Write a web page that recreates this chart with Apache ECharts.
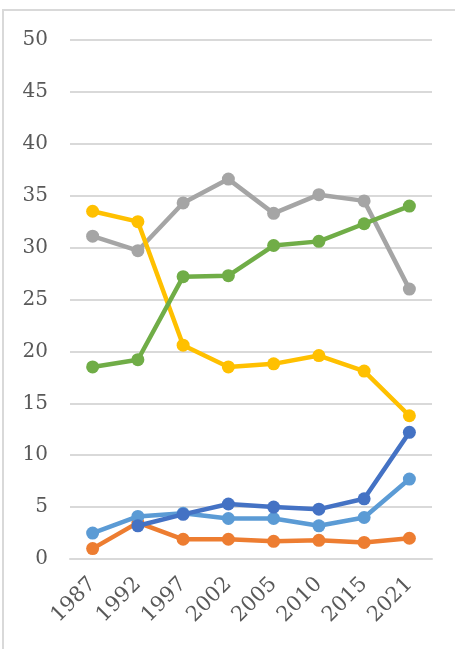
<!DOCTYPE html>
<html>
<head>
<meta charset="utf-8">
<script src="https://cdn.jsdelivr.net/npm/echarts@6/dist/echarts.min.js"></script>
<style>
  html, body { margin: 0; padding: 0; background: #fff; }
  #chart { width: 455px; height: 649px; }
</style>
</head>
<body>
<div id="chart"></div>
<script>
// categories (survey years)
const years = ["1987", "1992", "1997", "2002", "2005", "2010", "2015", "2021"];

// series values
const grayVals = [31.1, 29.7, 34.3, 36.6, 33.3, 35.1, 34.5, 26.0];
const yellowVals = [33.5, 32.5, 20.6, 18.5, 18.8, 19.6, 18.1, 13.8];
const greenVals = [18.5, 19.2, 27.2, 27.3, 30.2, 30.6, 32.3, 34.0];
const darkBlueVals = [null, 3.2, 4.3, 5.3, 5.0, 4.8, 5.8, 12.2];
const lightBlueVals = [2.5, 4.1, 4.4, 3.9, 3.9, 3.2, 4.0, 7.7];
const orangeVals = [1.0, 3.5, 1.9, 1.9, 1.7, 1.8, 1.6, 2.0];

const chart = echarts.init(document.getElementById("chart"));

function lineSeries(data, color, z) {
  return {
    type: "line",
    data: data,
    z: z,
    symbol: "circle",
    symbolSize: 13,
    showSymbol: true,
    lineStyle: { width: 4.5, color: color },
    itemStyle: { color: color },
  };
}

const labelFont = "'DejaVu Serif', serif";

chart.setOption({
  animation: false,
  grid: { left: 70, right: 23, top: 40, bottom: 90, containLabel: false },
  graphic: [
    {
      type: "rect",
      shape: { x: 3, y: 10, width: 470, height: 660 },
      style: { fill: null, stroke: "#d9d9d9", lineWidth: 2 },
    },
  ],
  xAxis: {
    type: "category",
    data: years,
    boundaryGap: true,
    axisLine: { show: true, lineStyle: { color: "#d9d9d9", width: 2 } },
    axisTick: { show: false },
    axisLabel: {
      rotate: 45,
      margin: 22,
      color: "#595959",
      fontSize: 21,
      fontFamily: labelFont,
    },
  },
  yAxis: {
    type: "value",
    min: 0,
    max: 50,
    interval: 5,
    axisLine: { show: false },
    axisTick: { show: false },
    axisLabel: {
      margin: 22,
      color: "#595959",
      fontSize: 20,
      fontFamily: labelFont,
    },
    splitLine: { show: true, lineStyle: { color: "#d9d9d9", width: 2 } },
  },
  series: [
    lineSeries(grayVals, "#a5a5a5", 2),
    lineSeries(yellowVals, "#ffc000", 3),
    lineSeries(greenVals, "#70ad47", 4),
    lineSeries(orangeVals, "#ed7d31", 5),
    lineSeries(lightBlueVals, "#5b9bd5", 6),
    lineSeries(darkBlueVals, "#4472c4", 7),
  ],
});
</script>
</body>
</html>
